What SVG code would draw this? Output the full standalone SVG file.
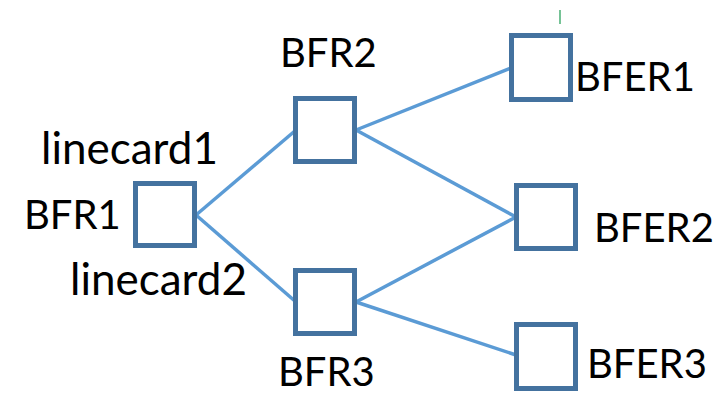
<svg xmlns="http://www.w3.org/2000/svg" width="723" height="393" viewBox="0 0 723 393">
<style>
.box{fill:#ffffff;stroke:#44729f;stroke-width:5}
.ln{stroke:#5b9bd5;stroke-width:3.5;fill:none}
.lbl{font-family:Lato,"Open Sans","Liberation Sans",sans-serif;font-size:40px;fill:#000000}
.lc{font-size:44px}
</style>
<rect width="723" height="393" fill="#ffffff"/>
<g id="connectors">
<line class="ln" x1="196" y1="215" x2="296" y2="130"/>
<line class="ln" x1="196" y1="215" x2="296" y2="302"/>
<line class="ln" x1="356" y1="130" x2="511" y2="68"/>
<line class="ln" x1="356" y1="130" x2="516" y2="217"/>
<line class="ln" x1="356" y1="302" x2="516" y2="217"/>
<line class="ln" x1="356" y1="302" x2="516" y2="355"/>
</g>
<g id="BFR1">
<rect class="box" x="135.5" y="183.5" width="59" height="62"/>
<text class="lbl" x="24" y="229">BFR1</text>
<text class="lbl lc" x="41" y="164">linecard1</text>
<text class="lbl lc" x="70" y="295">linecard2</text>
</g>
<g id="BFR2">
<rect class="box" x="295.5" y="98.5" width="59" height="63"/>
<text class="lbl" x="280" y="67">BFR2</text>
</g>
<g id="BFR3">
<rect class="box" x="295.5" y="270.5" width="59" height="63"/>
<text class="lbl" x="278" y="386">BFR3</text>
</g>
<g id="BFER1">
<rect class="box" x="511.5" y="35.5" width="59" height="64"/>
<text class="lbl" x="575" y="91">BFER1</text>
</g>
<g id="BFER2">
<rect class="box" x="516.5" y="185.5" width="59" height="63"/>
<text class="lbl" x="594" y="242">BFER2</text>
</g>
<g id="BFER3">
<rect class="box" x="516.5" y="324.5" width="59" height="64"/>
<text class="lbl" x="587" y="378">BFER3</text>
</g>
<line x1="560" y1="10" x2="560" y2="24" stroke="#1a9a50" stroke-width="1.2"/>
</svg>
